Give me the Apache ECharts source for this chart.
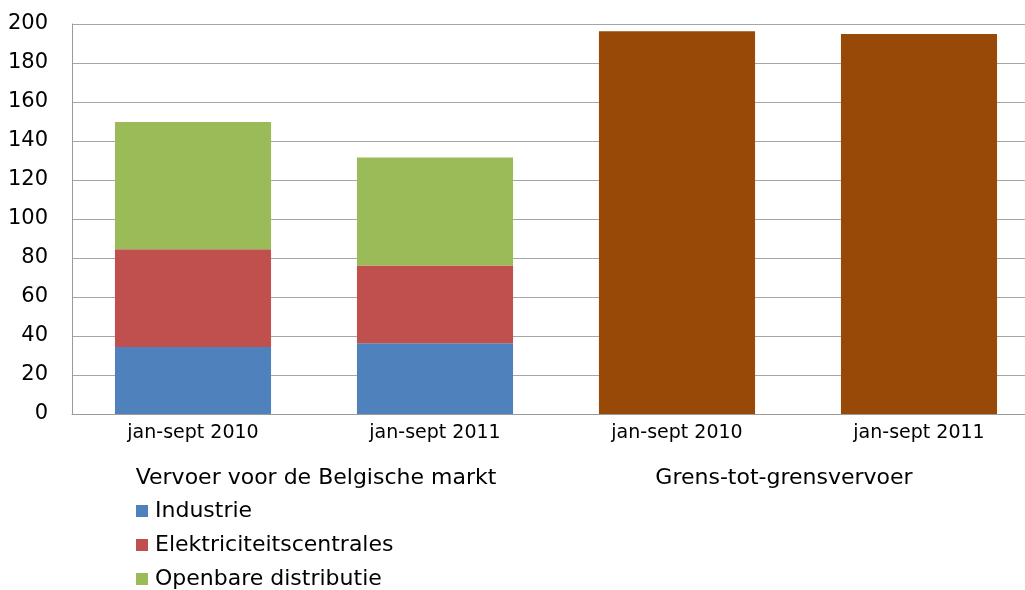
<!DOCTYPE html>
<html>
<head>
<meta charset="utf-8">
<script src="https://cdn.jsdelivr.net/npm/echarts@6/dist/echarts.min.js"></script>
<style>html,body{margin:0;padding:0;background:#fff}#c{width:1025px;height:590px}</style>
</head>
<body>
<div id="c"></div>
<script>
const categories = ['b2010', 'b2011', 'g2010', 'g2011'];
const tickLabels = ['jan-sept 2010', 'jan-sept 2011', 'jan-sept 2010', 'jan-sept 2011'];
const groupLabels = ['Vervoer voor de Belgische markt', 'Grens-tot-grensvervoer'];
const industrie = [34.4, 36.3, '-', '-'];
const elektriciteit = [50.1, 39.8, '-', '-'];
const openbare = [65.2, 55.5, '-', '-'];
const grens = ['-', '-', 196.3, 194.9];
const seriesNames = ['Industrie', 'Elektriciteitscentrales', 'Openbare distributie', 'Grens-tot-grensvervoer'];
const yTicks = { min: 0, max: 200, interval: 20 };

const FONT = 'DejaVu Sans';
const chart = echarts.init(document.getElementById('c'));
const mk = (name, data, color) => ({
  name, type: 'bar', stack: 'all', data, barWidth: '64.5%',
  itemStyle: { color }, emphasis: { disabled: true }
});
const legendTops = [500, 534, 568];
const legends = seriesNames.slice(0, 3).map((n, i) => ({
  orient: 'vertical', left: 136, top: legendTops[i], padding: 0,
  data: [n], icon: 'rect', itemWidth: 12, itemHeight: 12,
  textStyle: { color: '#000', fontFamily: FONT, fontSize: 22, lineHeight: 22, padding: [0, 0, 0, 2] },
  selectedMode: false
}));
chart.setOption({
  animation: false,
  color: ['#4F81BD', '#C0504D', '#9BBB59', '#984807'],
  grid: { left: 72, right: -15, top: 24, bottom: 176, outerBoundsMode: 'none', containLabel: false },
  xAxis: {
    type: 'category', data: categories,
    axisLine: { lineStyle: { color: '#9a9a9a', width: 1 } },
    axisTick: { show: false },
    axisLabel: {
      formatter: (v, i) => tickLabels[i], color: '#000',
      fontFamily: FONT, fontSize: 19, margin: 10
    }
  },
  yAxis: {
    type: 'value', min: yTicks.min, max: yTicks.max, interval: yTicks.interval,
    axisLine: { show: true, lineStyle: { color: '#9a9a9a', width: 1 } },
    axisTick: { show: false },
    splitLine: { lineStyle: { color: '#a6a6a6', width: 1 } },
    axisLabel: { color: '#000', fontFamily: FONT, fontSize: 21, margin: 24 }
  },
  legend: legends,
  graphic: [
    { type: 'text', x: 316, y: 478, style: { text: groupLabels[0], fill: '#000', font: '22px "DejaVu Sans"', textAlign: 'center', textVerticalAlign: 'middle' } },
    { type: 'text', x: 784, y: 478, style: { text: groupLabels[1], fill: '#000', font: '22px "DejaVu Sans"', textAlign: 'center', textVerticalAlign: 'middle' } }
  ],
  series: [
    mk(seriesNames[0], industrie, '#4F81BD'),
    mk(seriesNames[1], elektriciteit, '#C0504D'),
    mk(seriesNames[2], openbare, '#9BBB59'),
    mk(seriesNames[3], grens, '#984807')
  ]
});
</script>
</body>
</html>
